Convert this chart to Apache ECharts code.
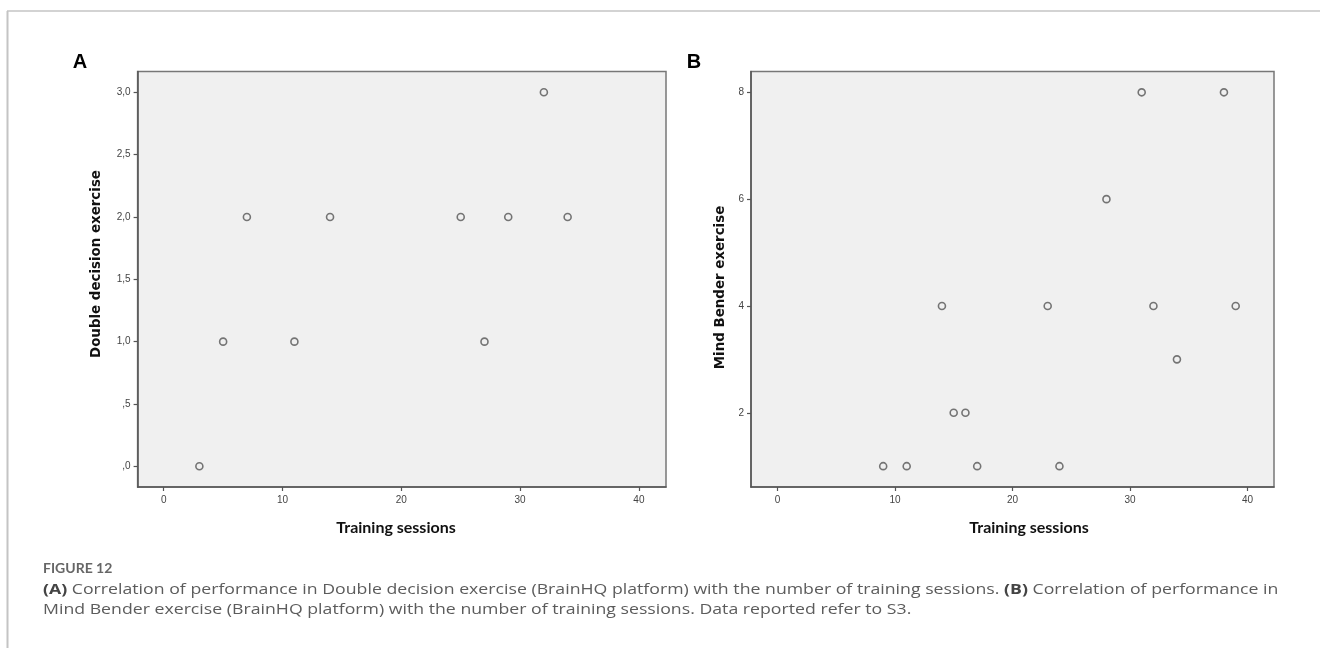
<!DOCTYPE html>
<html>
<head>
<meta charset="utf-8">
<script src="https://cdn.jsdelivr.net/npm/echarts@6/dist/echarts.min.js"></script>
<style>
  html, body { margin: 0; padding: 0; background: #ffffff; }
  #chart { width: 1320px; height: 648px; }
</style>
</head>
<body>
<div id="chart"></div>
<script>
// ---- Data ----
const sessionsA = [3, 5, 7, 11, 14, 25, 27, 29, 32, 34];
const doubleDecision = [0, 1, 2, 1, 2, 2, 1, 2, 3, 2];
const sessionsB = [9, 11, 14, 15, 16, 17, 23, 24, 28, 31, 32, 34, 38, 39];
const mindBender = [1, 1, 4, 2, 2, 1, 4, 1, 6, 8, 4, 3, 8, 4];
const xTicks = [0, 10, 20, 30, 40];
const yTicksA = [0, 0.5, 1, 1.5, 2, 2.5, 3];
const yTicksB = [2, 4, 6, 8];
const xTitle = 'Training sessions';
const yTitleA = 'Double decision exercise';
const yTitleB = 'Mind Bender exercise';
const panelLabels = ['A', 'B'];
const figureLabel = 'FIGURE 12';
const captionLine1 = ['(A)', ' Correlation of performance in Double decision exercise (BrainHQ platform) with the number of training sessions. ', '(B)', ' Correlation of performance in'];
const captionLine2 = 'Mind Bender exercise (BrainHQ platform) with the number of training sessions. Data reported refer to S3.';

// ---- Chart ----
const chart = echarts.init(document.getElementById('chart'), null, { renderer: 'canvas' });
const tickFont = "'Liberation Sans Narrow', 'Liberation Sans', Arial, sans-serif";

function fmtA(v) {
  let s = Number(v).toFixed(1).replace('.', ',');
  if (s.startsWith('0')) s = s.slice(1);
  return s;
}

function xAxisCfg(gridIndex, min, max) {
  return {
    type: 'value', gridIndex, min, max,
    axisLine: { show: true, onZero: false, lineStyle: { color: '#555', width: 1.5 } },
    axisTick: { show: true, customValues: xTicks, length: 4, lineStyle: { color: '#555', width: 1.2 } },
    axisLabel: { show: true, customValues: xTicks, margin: 8, color: '#444', fontSize: 10, fontFamily: tickFont },
    splitLine: { show: false }
  };
}
function yAxisCfg(gridIndex, min, max, ticks, fmt) {
  return {
    type: 'value', gridIndex, min, max,
    axisLine: { show: true, onZero: false, lineStyle: { color: '#555', width: 1.5 } },
    axisTick: { show: true, customValues: ticks, length: 4, lineStyle: { color: '#555', width: 1.2 } },
    axisLabel: { show: true, customValues: ticks, margin: 7, color: '#444', fontSize: 10, fontFamily: tickFont, formatter: fmt },
    splitLine: { show: false }
  };
}

const markerStyle = { color: 'rgba(0,0,0,0)', borderColor: '#555', borderWidth: 1.6 };
const capFont = "15px 'Open Sans', sans-serif";
const capScale = 1.18;

const option = {
  backgroundColor: '#ffffff',
  animation: false,
  grid: [
    { left: 137.6, top: 71.5, width: 528.4, height: 415.5, show: true, backgroundColor: '#f0f0f0', borderColor: '#777', borderWidth: 1.5 },
    { left: 751, top: 71.5, width: 523, height: 415.5, show: true, backgroundColor: '#f0f0f0', borderColor: '#777', borderWidth: 1.5 }
  ],
  xAxis: [ xAxisCfg(0, -2.2, 42.28), xAxisCfg(1, -2.25, 42.26) ],
  yAxis: [
    yAxisCfg(0, -0.166, 3.167, yTicksA, fmtA),
    yAxisCfg(1, 0.61, 8.39, yTicksB, v => String(v))
  ],
  series: [
    { type: 'scatter', xAxisIndex: 0, yAxisIndex: 0, symbol: 'circle', symbolSize: 7,
      itemStyle: markerStyle, data: sessionsA.map((x, i) => [x, doubleDecision[i]]) },
    { type: 'scatter', xAxisIndex: 1, yAxisIndex: 1, symbol: 'circle', symbolSize: 7,
      itemStyle: markerStyle, data: sessionsB.map((x, i) => [x, mindBender[i]]) }
  ],
  graphic: [
    // outer frame
    { type: 'line', shape: { x1: 7.5, y1: 11, x2: 7.5, y2: 648 }, style: { stroke: '#c4c4c4', lineWidth: 2 } },
    { type: 'line', shape: { x1: 7, y1: 11, x2: 1320, y2: 11 }, style: { stroke: '#c4c4c4', lineWidth: 1.5 } },
    // panel labels
    { type: 'text', x: 80, y: 62.5, style: { text: panelLabels[0], font: "bold 20px 'Liberation Sans', Arial, sans-serif", fill: '#000', textAlign: 'center', textVerticalAlign: 'middle' } },
    { type: 'text', x: 694, y: 62.5, style: { text: panelLabels[1], font: "bold 20px 'Liberation Sans', Arial, sans-serif", fill: '#000', textAlign: 'center', textVerticalAlign: 'middle' } },
    // axis titles
    { type: 'text', x: 396, y: 528, style: { text: xTitle, font: "bold 16px Lato, sans-serif", fill: '#111', textAlign: 'center', textVerticalAlign: 'middle' } },
    { type: 'text', x: 1029, y: 528, style: { text: xTitle, font: "bold 16px Lato, sans-serif", fill: '#111', textAlign: 'center', textVerticalAlign: 'middle' } },
    { type: 'text', x: 97, y: 264, rotation: Math.PI / 2, style: { text: yTitleA, font: "bold 13.4px 'DejaVu Sans', sans-serif", fill: '#111', textAlign: 'center', textVerticalAlign: 'middle' } },
    { type: 'text', x: 721, y: 287.5, rotation: Math.PI / 2, style: { text: yTitleB, font: "bold 13.4px 'DejaVu Sans', sans-serif", fill: '#111', textAlign: 'center', textVerticalAlign: 'middle' } },
    // caption
    { type: 'text', x: 43, y: 568, style: { text: figureLabel, font: "bold 14px Lato, sans-serif", fill: '#666', textAlign: 'left', textVerticalAlign: 'middle' } },
    { type: 'text', x: 43, y: 590, scaleX: capScale, style: {
        text: '{b|' + captionLine1[0] + '}' + captionLine1[1] + '{b|' + captionLine1[2] + '}' + captionLine1[3],
        font: capFont, fill: '#5c5c5c', textAlign: 'left', textVerticalAlign: 'middle',
        rich: { b: { fontWeight: 'bold', fontSize: 15, fontFamily: "'Open Sans', sans-serif", fill: '#444', color: '#444' } }
      } },
    { type: 'text', x: 43, y: 610, scaleX: capScale, style: { text: captionLine2, font: capFont, fill: '#5c5c5c', textAlign: 'left', textVerticalAlign: 'middle' } }
  ]
};
chart.setOption(option);
</script>
</body>
</html>
